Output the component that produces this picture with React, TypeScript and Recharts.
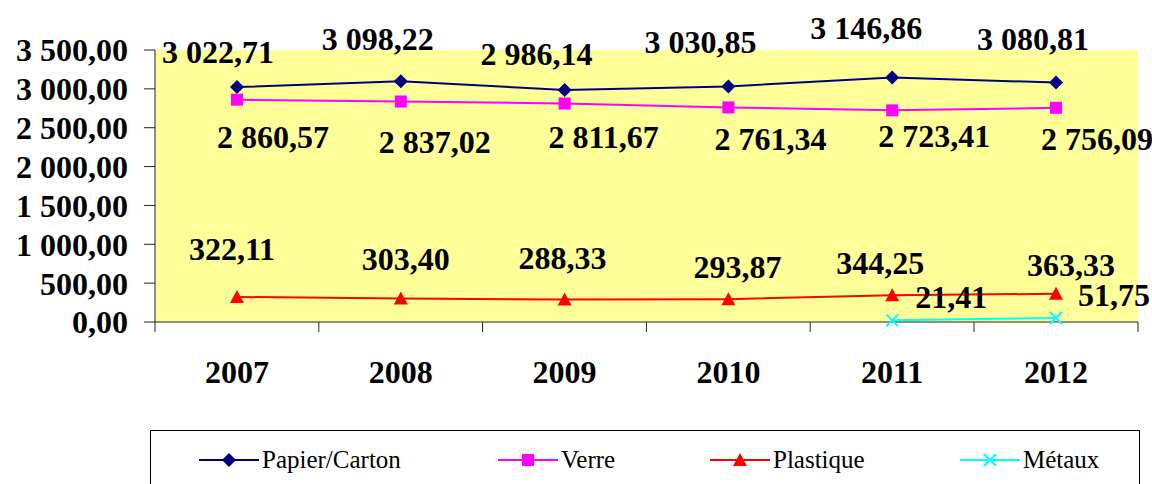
import { LineChart, Line, XAxis, YAxis, CartesianGrid, Legend, LabelList } from "recharts";

const years = ["2007", "2008", "2009", "2010", "2011", "2012"];
const papier = [3022.71, 3098.22, 2986.14, 3030.85, 3146.86, 3080.81];
const verre = [2860.57, 2837.02, 2811.67, 2761.34, 2723.41, 2756.09];
const plastique = [322.11, 303.4, 288.33, 293.87, 344.25, 363.33];
const metaux = [null, null, null, null, 21.41, 51.75];
const yTicks = [0, 500, 1000, 1500, 2000, 2500, 3000, 3500];

const data = years.map((y, i) => ({
  year: y,
  "Papier/Carton": papier[i],
  Verre: verre[i],
  Plastique: plastique[i],
  "Métaux": metaux[i],
}));

const FONT = "Liberation Serif, DejaVu Serif, serif";

// label centre offsets from each point (Excel placed them by hand)
const papierOff = [[-19, -35], [-23, -42], [-28, -36], [-28, -44], [-26, -49], [-23, -44]];
const verreOff = [[36, 37], [34, 40], [39, 34], [42, 32], [42, 26], [41, 31]];
const plastiqueOff = [[-5, -48], [5, -39], [-2, -42], [9, -32], [-12, -32], [15, -29]];
const metauxOff = [[0, 0], [0, 0], [0, 0], [0, 0], [59, -23], [58, -23]];

const fmt = (v: number) => {
  const [i, d] = v.toFixed(2).split(".");
  return i.replace(/\B(?=(\d{3})+(?!\d))/g, " ") + "," + d;
};

const label = (off: number[][]) => (p: any) => {
  if (p.value == null || p.x == null || p.y == null) return null;
  const [dx, dy] = off[p.index] || [0, 0];
  return (
    <text key={p.index} x={p.x + dx} y={p.y + dy + 11} textAnchor="middle" style={{ fontFamily: FONT, fontWeight: 700, fontSize: 32 }} fill="#000">
      {fmt(p.value)}
    </text>
  );
};

const Diamond = ({ cx, cy, c }: any) => <polygon points={`${cx},${cy - 7} ${cx + 7},${cy} ${cx},${cy + 7} ${cx - 7},${cy}`} fill={c} />;
const Square = ({ cx, cy, c }: any) => <rect x={cx - 6} y={cy - 6} width={12} height={12} fill={c} />;
const Triangle = ({ cx, cy, c }: any) => <polygon points={`${cx},${cy - 7} ${cx + 7},${cy + 6} ${cx - 7},${cy + 6}`} fill={c} />;
const Cross = ({ cx, cy, c }: any) => (
  <g stroke={c} strokeWidth={2}>
    <line x1={cx - 6} y1={cy - 6} x2={cx + 6} y2={cy + 6} />
    <line x1={cx - 6} y1={cy + 6} x2={cx + 6} y2={cy - 6} />
  </g>
);

const series = [
  { key: "Papier/Carton", color: "#000080", Shape: Diamond, off: papierOff, lx: 48 },
  { key: "Verre", color: "#FF00FF", Shape: Square, off: verreOff, lx: 347 },
  { key: "Plastique", color: "#FF0000", Shape: Triangle, off: plastiqueOff, lx: 559 },
  { key: "Métaux", color: "#00FFFF", Shape: Cross, off: metauxOff, lx: 809 },
];

const dot = (Shape: any, c: string) => (p: any) => {
  if (p.cy == null || p.cx == null) return <g key={p.index} />;
  return <Shape key={p.index} cx={p.cx} cy={p.cy} c={c} />;
};

const XTick = (p: any) => {
  const { x, y, payload, index } = p;
  const half = 82;
  return (
    <g>
      <line x1={x - half} y1={y} x2={x - half} y2={y + 10} stroke="#222" />
      {index === years.length - 1 && <line x1={x + half} y1={y} x2={x + half} y2={y + 10} stroke="#222" />}
      <text x={x} y={y + 61} textAnchor="middle" style={{ fontFamily: FONT, fontWeight: 700, fontSize: 32 }} fill="#000">
        {payload.value}
      </text>
    </g>
  );
};

const LegendBox = () => (
  <div style={{ position: "relative", width: 988, height: 70, border: "1px solid #000", background: "#fff" }}>
    {series.map((s) => (
      <div key={s.key} style={{ position: "absolute", left: s.lx, top: 16, display: "flex", alignItems: "center", height: 26 }}>
        <svg width={60} height={20}>
          <line x1={0} y1={10} x2={60} y2={10} stroke={s.color} strokeWidth={2} />
          <s.Shape cx={30} cy={10} c={s.color} />
        </svg>
        <span style={{ fontFamily: FONT, fontSize: 25, color: "#000", marginLeft: 3, lineHeight: "26px" }}>{s.key}</span>
      </div>
    ))}
  </div>
);

export default function App() {
  return (
    <div style={{ position: "absolute", left: 0, top: 0, width: 1152, height: 484, background: "#fff", overflow: "hidden", fontFamily: FONT }}>
      <LineChart width={1152} height={484} data={data} margin={{ top: 50, right: 14, left: 0, bottom: 92 }} style={{ fontFamily: FONT }}>
        <CartesianGrid horizontal={false} vertical={false} fill="#FFFF99" />
        <XAxis
          dataKey="year"
          height={70}
          padding={{ left: 82, right: 82 }}
          axisLine={{ stroke: "#222" }}
          tickLine={false}
          tickSize={0}
          tickMargin={0}
          tick={XTick}
          interval={0}
        />
        <YAxis
          width={155}
          domain={[0, 3500]}
          ticks={yTicks}
          interval={0}
          tickFormatter={fmt}
          axisLine={{ stroke: "#222" }}
          tickLine={{ stroke: "#222" }}
          tickSize={11}
          tickMargin={16}
          tick={{ fontSize: 32, fontWeight: 700, fill: "#000", style: { fontFamily: FONT } }}
        />
        <Legend
          layout="horizontal"
          verticalAlign="middle"
          align="center"
          wrapperStyle={{ left: 150, top: 430, width: 990, height: 72 }}
          content={() => <LegendBox />}
        />
        {series.map((s) => (
          <Line
            key={s.key}
            type="linear"
            dataKey={s.key}
            stroke={s.color}
            strokeWidth={2}
            dot={dot(s.Shape, s.color)}
            activeDot={false}
            isAnimationActive={false}
          >
            <LabelList dataKey={s.key} content={label(s.off)} />
          </Line>
        ))}
      </LineChart>
    </div>
  );
}
